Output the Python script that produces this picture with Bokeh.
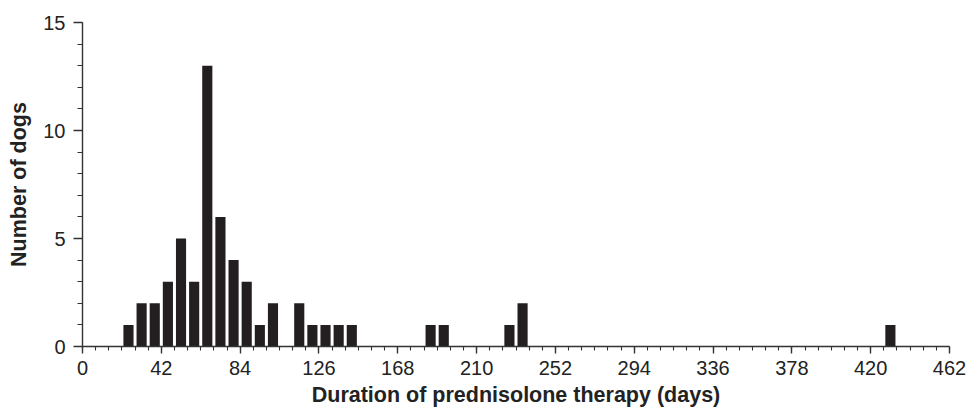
from bokeh.plotting import figure
from bokeh.models import SingleIntervalTicker, Range1d
from bokeh.embed import file_html
from bokeh.resources import INLINE

# Histogram bins (7-day bins): bin start day and number of dogs
bin_start = [21, 28, 35, 42, 49, 56, 63, 70, 77, 84, 91, 98, 112, 119, 126, 133, 140,
             182, 189, 224, 231, 427]
counts = [1, 2, 2, 3, 5, 3, 13, 6, 4, 3, 1, 2, 2, 1, 1, 1, 1,
          1, 1, 1, 2, 1]
bin_width = 7

x_label = "Duration of prednisolone therapy (days)"
y_label = "Number of dogs"

centers = [b + bin_width / 2 for b in bin_start]

W, H = 968, 412
p = figure(width=W, height=H, output_backend="svg", toolbar_location=None,
           x_range=Range1d(0, 462), y_range=Range1d(0, 15),
           min_border_left=82, min_border_right=W - 949,
           min_border_top=22, min_border_bottom=H - 346)

p.vbar(x=centers, top=counts, bottom=0, width=5.4,
       fill_color="#231f20", line_color=None)

p.grid.visible = False
p.outline_line_color = None
p.background_fill_color = "white"
p.border_fill_color = "white"

p.xaxis.ticker = SingleIntervalTicker(interval=42, num_minor_ticks=6)
p.yaxis.ticker = SingleIntervalTicker(interval=5, num_minor_ticks=5)

for ax in (p.xaxis[0], p.yaxis[0]):
    ax.axis_line_color = "#333333"
    ax.axis_line_width = 1.4
    ax.major_tick_line_color = "#333333"
    ax.minor_tick_line_color = "#333333"
    ax.major_tick_line_width = 1.4
    ax.minor_tick_line_width = 1.1
    ax.major_tick_in = 0
    ax.minor_tick_in = 0
    ax.major_label_text_font = "Liberation Sans"
    ax.major_label_text_font_size = "20px"
    ax.major_label_text_color = "#222222"
    ax.axis_label_text_font = "Liberation Sans"
    ax.axis_label_text_font_style = "bold"
    ax.axis_label_text_font_size = "21.5px"
    ax.axis_label_text_color = "#222222"

p.xaxis.axis_label = x_label
p.yaxis.axis_label = y_label
p.xaxis.major_tick_out = 7
p.xaxis.minor_tick_out = 4
p.yaxis.major_tick_out = 9
p.yaxis.minor_tick_out = 5
p.xaxis.major_label_standoff = 7
p.yaxis.major_label_standoff = 8
p.xaxis.axis_label_standoff = 5
p.yaxis.axis_label_standoff = 9

open("out.html", "w").write(file_html(p, INLINE))
